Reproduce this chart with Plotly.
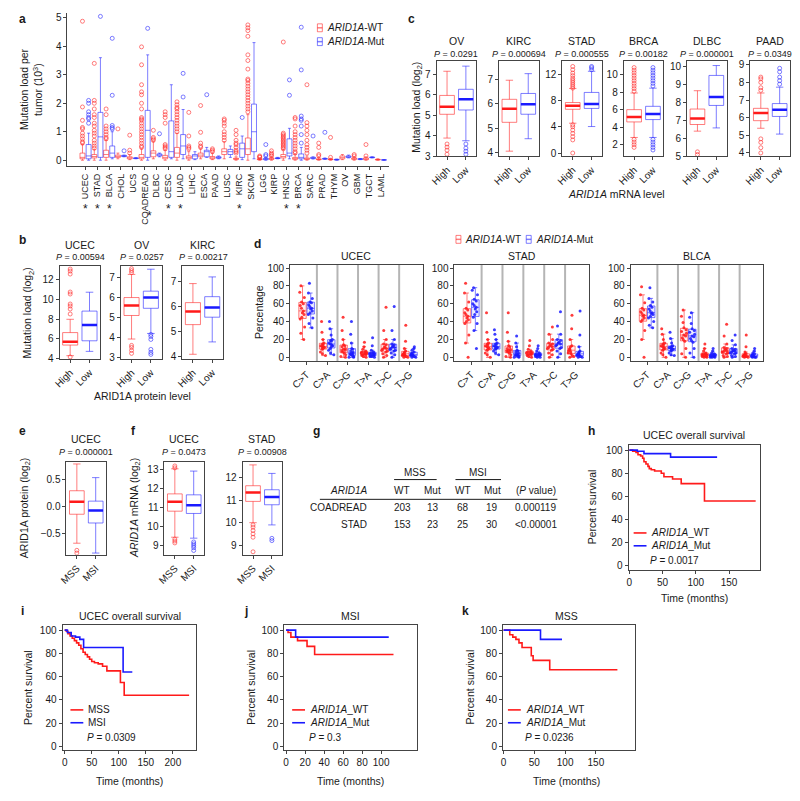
import plotly.graph_objects as go

# page is 800x801 but the html body keeps an 8px margin, so the figure is
# drawn 16px smaller and page coordinates are shifted by OFF
PAGE_W, PAGE_H, OFF = 800, 801, 8
W, H = PAGE_W - 2 * OFF, PAGE_H - 2 * OFF
RED, BLUE = "#ff1a1a", "#1a1aff"
RED_L, BLUE_L = "rgba(255,40,40,0.6)", "rgba(40,40,255,0.6)"
FONT = "Liberation Sans, Arial, sans-serif"
INK = "#1a1a1a"

# -----------------------------
# DATA
# -----------------------------
# panel a : mutation load per tumor (10^3)
cancers = ["UCEC", "STAD", "BLCA", "CHOL", "UCS", "COADREAD", "DLBC", "CESC", "LUAD",
           "LIHC", "ESCA", "PAAD", "LUSC", "KIRC", "SKCM", "LGG", "KIRP", "HNSC",
           "BRCA", "SARC", "PRAD", "THYM", "OV", "GBM", "TGCT", "LAML"]
a_sig = ["UCEC", "STAD", "BLCA", "COADREAD", "CESC", "LUAD", "KIRC", "HNSC", "BRCA"]

a_wt_q1 = [0.05, 0.08, 0.10, 0.10, 0.05, 0.05, 0.12, 0.05, 0.10, 0.05, 0.12, 0.05, 0.20,
           0.03, 0.20, 0.02, 0.03, 0.08, 0.03, 0.03, 0.02, 0.02, 0.05, 0.03, 0.02, 0.01]
a_wt_med = [0.10, 0.13, 0.20, 0.13, 0.08, 0.10, 0.25, 0.10, 0.25, 0.10, 0.18, 0.08, 0.30,
            0.05, 0.40, 0.03, 0.05, 0.13, 0.05, 0.05, 0.03, 0.03, 0.10, 0.05, 0.04, 0.02]
a_wt_q3 = [0.25, 0.20, 0.35, 0.18, 0.12, 0.20, 0.33, 0.17, 0.45, 0.15, 0.25, 0.13, 0.40,
           0.07, 0.78, 0.05, 0.08, 0.20, 0.10, 0.08, 0.05, 0.04, 0.15, 0.08, 0.08, 0.03]
a_wt_lo = [0.00, 0.00, 0.00, 0.05, 0.02, 0.00, 0.05, 0.00, 0.00, 0.00, 0.05, 0.02, 0.05,
           0.00, 0.00, 0.00, 0.00, 0.00, 0.00, 0.00, 0.00, 0.00, 0.02, 0.00, 0.00, 0.00]
a_wt_hi = [0.55, 0.38, 0.70, 0.25, 0.20, 0.40, 0.65, 0.35, 0.95, 0.30, 0.40, 0.25, 0.65,
           0.12, 1.60, 0.08, 0.12, 0.38, 0.20, 0.15, 0.10, 0.07, 0.20, 0.12, 0.12, 0.05]
a_wt_out = [
    [4.88, 1.87, 1.4, 1.15, 1.1, 0.95, 0.85, 0.75, 0.65, 0.6],
    [3.4, 2.1, 2.0, 1.8, 1.6, 1.5, 1.3, 1.2, 1.05, 0.95, 0.85, 0.7, 0.6, 0.5, 0.42],
    [1.8, 1.6, 1.2, 1.1, 1.0, 0.9, 0.8, 0.75],
    [1.1],
    [0.88, 0.35, 0.25],
    [3.98, 3.35, 2.65, 2.4, 2.3, 2.0, 1.8, 1.5, 1.45, 1.4, 1.3, 1.2, 1.1, 1.0, 0.9, 0.8,
     0.7, 0.6, 0.5, 0.45],
    [1.05, 0.8, 0.75, 0.7],
    [1.7, 1.6, 1.5, 1.3, 0.55, 0.5, 0.45, 0.4],
    [2.05, 1.95, 1.85, 1.8, 1.7, 1.6, 1.5, 1.4, 1.3, 1.2, 1.1, 1.0],
    [1.68, 0.85, 0.5, 0.45, 0.4],
    [1.92, 0.98, 0.6, 0.5, 0.45],
    [0.4, 0.35, 0.3],
    [1.45, 1.4, 1.3, 1.2, 1.0, 0.9, 0.8, 0.7],
    [1.05, 0.9, 0.7, 0.6, 0.55, 0.45, 0.35, 0.3, 0.25],
    [4.75, 4.65, 4.55, 4.35, 3.7, 3.5, 3.2, 2.85, 2.8, 2.7, 2.6, 2.5, 2.4, 2.3, 2.2, 2.1,
     2.0, 1.9, 1.8, 1.7],
    [0.15, 0.12, 0.1],
    [0.33, 0.25, 0.2, 0.15],
    [4.15, 0.95, 0.9, 0.85, 0.8, 0.75, 0.7, 0.65, 0.6, 0.55, 0.5, 0.45, 0.4],
    [1.5, 1.45, 1.2, 1.0, 0.9, 0.8, 0.7, 0.6, 0.5, 0.4, 0.3, 0.25],
    [2.65, 1.32, 1.2, 1.05, 0.9, 0.7, 0.55, 0.45, 0.35, 0.25],
    [0.6, 0.45, 0.2, 0.15],
    [0.8, 0.1],
    [],
    [0.2, 0.15],
    [0.55, 0.15],
    [],
]

a_mut_q1 = [0.05, 0.10, 0.10, 0.13, 0.06, 0.10, 0.15, 0.10, 0.20, 0.05, 0.12, 0.07, 0.20,
            0.10, 0.30, 0.02, 0.06, 0.15, 0.05, 0.06, 0.04, 0.01, 0.10, 0.03, 0.09, 0.005]
a_mut_med = [0.15, 0.82, 0.25, 0.15, 0.07, 1.05, 0.18, 0.30, 0.50, 0.15, 0.30, 0.10, 0.30,
             0.40, 1.00, 0.04, 0.07, 0.25, 0.10, 0.08, 0.05, 0.02, 0.12, 0.04, 0.10, 0.01]
a_mut_q3 = [0.55, 1.68, 0.50, 0.17, 0.08, 1.75, 0.22, 1.38, 0.90, 0.20, 0.35, 0.12, 0.38,
            0.60, 1.97, 0.06, 0.08, 0.75, 0.22, 0.10, 0.06, 0.03, 0.15, 0.05, 0.11, 0.015]
a_mut_lo = [0.00, 0.00, 0.05, 0.12, 0.05, 0.00, 0.12, 0.05, 0.05, 0.02, 0.10, 0.05, 0.10,
            0.02, 0.05, 0.00, 0.05, 0.05, 0.00, 0.04, 0.03, 0.00, 0.08, 0.02, 0.08, 0.00]
a_mut_hi = [0.95, 3.60, 1.00, 0.18, 0.09, 3.70, 0.25, 2.65, 1.78, 0.30, 0.45, 0.15, 0.50,
            0.85, 4.13, 0.10, 0.10, 1.12, 0.45, 0.12, 0.08, 0.04, 0.18, 0.06, 0.12, 0.02]
a_mut_out = [
    [2.1, 2.0, 1.7, 1.6, 1.5, 1.45, 1.3],
    [5.05],
    [4.28, 2.28, 1.22, 1.15, 1.1],
    [0.33], [], [4.63], [0.93], [], [3.05, 2.22], [], [2.3], [], [], [1.5], [],
    [0.55, 0.2, 0.15], [], [2.82, 2.28],
    [4.67, 3.17, 1.55, 1.45, 1.4, 1.2, 0.9, 0.6],
    [0.85], [0.98], [], [], [], [], [],
]

# box summaries: (q1, median, q3, lower whisker, upper whisker)
# panel b : mutation load (log2) by ARID1A protein level
b_titles = ["UCEC", "OV", "KIRC"]
b_pvals = ["0.00594", "0.0257", "0.00217"]
b_high = [(5.39, 5.72, 6.64, 4.33, 7.97), (5.10, 5.60, 6.00, 3.92, 7.16), (5.27, 5.80, 6.16, 4.07, 6.93)]
b_low = [(5.82, 7.40, 8.79, 4.76, 10.68), (5.46, 6.00, 6.32, 4.20, 7.42), (5.57, 5.96, 6.40, 4.57, 7.20)]
b_high_out = [[4.2, 8.5, 9.0, 9.3, 9.5, 10.5, 10.7, 12.5, 12.8, 13.0],
              [7.25, 7.35, 7.45, 3.2, 3.35, 3.5, 3.6], []]
b_low_out = [[], [3.15, 3.25, 3.4, 3.9, 4.05, 4.15], []]
b_ranges = [[4.0, 13.3], [2.92, 7.58], [3.88, 7.64]]
b_ticks = [[4, 6, 8, 10, 12], [3, 4, 5, 6, 7], [4, 5, 6, 7]]

# panel c : mutation load (log2) by ARID1A mRNA level
c_titles = ["OV", "KIRC", "STAD", "BRCA", "DLBC", "PAAD"]
c_pvals = ["0.0291", "0.000694", "0.000555", "0.00182", "0.000001", "0.0349"]
c_high = [(5.05, 5.42, 5.97, 3.89, 7.15), (5.25, 5.80, 6.19, 4.07, 6.97), (6.67, 7.20, 7.70, 4.55, 9.85),
          (4.60, 5.17, 6.00, 2.83, 7.90), (6.77, 7.10, 7.63, 6.40, 8.65), (5.83, 6.26, 6.53, 5.40, 7.40)]
c_low = [(5.26, 5.79, 6.27, 3.76, 7.40), (5.58, 5.99, 6.43, 4.58, 7.24), (6.80, 7.47, 9.24, 4.04, 12.47),
         (4.87, 5.50, 6.38, 2.83, 8.45), (7.83, 8.30, 9.50, 6.58, 10.05), (6.07, 6.45, 6.80, 5.07, 7.73)]
c_high_out = [[3.1, 3.3, 3.45, 3.6], [],
              [9.9, 10.2, 10.5, 10.8, 11.1, 11.4, 11.8, 12.2, 12.7, 13.2, 4.3, 4.0, 3.5, 3.0, 2.5, 2.0, 0.0],
              [8.1, 8.4, 8.7, 9.0, 9.3, 9.6, 9.9, 10.2, 10.5, 10.8, 2.6, 2.3, 2.0, 1.7],
              [5.1, 5.25], [7.55, 7.7, 8.0, 8.2, 8.3, 4.0, 4.3, 4.6, 4.8]]
c_low_out = [[3.1, 3.25, 3.4, 3.6], [], [12.7, 13.0, 13.2],
             [8.7, 9.0, 9.3, 9.6, 9.9, 10.2, 10.5, 10.8, 2.6, 2.3, 2.0, 1.7, 1.4],
             [], [7.9, 8.1, 8.3, 8.6, 8.8]]
c_ranges = [[3.0, 7.63], [3.86, 7.74], [-0.5, 13.97], [0.68, 11.5], [5.0, 10.28], [3.81, 9.19]]
c_ticks = [[3, 4, 5, 6, 7], [4, 5, 6, 7], [0, 4, 8, 12], [2, 4, 6, 8, 10], [5, 6, 7, 8, 9, 10],
           [4, 5, 6, 7, 8, 9]]

# panel d : substitution spectra (percentage), one list per substitution type
subs = ["C>T", "C>A", "C>G", "T>A", "T>C", "T>G"]
d_titles = ["UCEC", "STAD", "BLCA"]
d_ucec_wt = [[20, 27, 34, 43, 45, 48, 50, 52, 55, 58, 60, 62, 67, 73, 80],
             [2, 4, 6, 9, 10, 11, 12, 12, 13, 14, 15, 16, 20, 28, 40],
             [0, 1, 3, 5, 6, 7, 8, 9, 10, 12, 13, 14, 20, 30, 45],
             [0, 1, 2, 3, 3, 4, 4, 5, 5, 6, 6, 7, 9, 12, 17],
             [0, 2, 4, 6, 7, 8, 9, 10, 11, 12, 14, 15, 20, 30, 56],
             [0, 0, 1, 2, 2, 3, 3, 4, 4, 5, 6, 7, 10, 18, 36]]
d_ucec_mut = [[33, 38, 44, 48, 50, 52, 54, 55, 57, 59, 61, 62, 66, 72, 83],
              [3, 5, 8, 10, 12, 13, 14, 15, 16, 18, 19, 20, 25, 32, 40],
              [0, 0, 1, 2, 3, 4, 4, 5, 6, 7, 9, 10, 16, 26, 40],
              [0, 1, 1, 2, 2, 3, 3, 4, 4, 5, 5, 6, 8, 13, 22],
              [0, 3, 5, 7, 8, 9, 10, 11, 12, 13, 14, 15, 20, 30, 57],
              [0, 0, 1, 2, 2, 2, 3, 3, 4, 4, 5, 6, 8, 10, 12]]
d_stad_wt = [[0, 16, 25, 38, 40, 42, 44, 46, 48, 50, 53, 55, 62, 72, 83],
             [0, 3, 5, 8, 9, 10, 11, 12, 13, 14, 15, 16, 20, 28, 50],
             [0, 1, 3, 5, 6, 7, 7, 8, 9, 10, 12, 13, 18, 28, 50],
             [0, 1, 2, 3, 3, 4, 4, 5, 5, 6, 6, 7, 9, 13, 19],
             [0, 3, 5, 8, 9, 10, 11, 12, 13, 14, 15, 16, 20, 26, 34],
             [0, 1, 2, 4, 5, 6, 7, 8, 9, 10, 12, 13, 20, 32, 47]]
d_stad_mut = [[10, 30, 38, 45, 48, 51, 54, 56, 58, 60, 63, 65, 70, 75, 78],
              [3, 5, 7, 9, 10, 11, 11, 12, 13, 14, 15, 16, 20, 26, 31],
              [0, 0, 1, 2, 2, 3, 3, 4, 5, 6, 7, 8, 12, 16, 24],
              [0, 0, 1, 2, 2, 2, 3, 3, 3, 4, 4, 5, 7, 10, 13],
              [0, 4, 7, 10, 11, 13, 14, 15, 16, 17, 19, 20, 26, 35, 51],
              [0, 0, 1, 2, 2, 3, 3, 4, 4, 5, 6, 7, 12, 25, 52]]
d_blca_wt = [[0, 20, 30, 40, 42, 44, 46, 47, 49, 51, 53, 55, 61, 70, 79],
             [0, 3, 5, 8, 9, 10, 11, 12, 13, 14, 15, 16, 20, 26, 32],
             [0, 4, 10, 18, 20, 22, 24, 25, 27, 29, 31, 33, 39, 46, 53],
             [0, 0, 1, 1, 2, 2, 3, 3, 3, 4, 4, 5, 7, 10, 15],
             [0, 1, 2, 4, 5, 6, 6, 7, 8, 9, 10, 11, 15, 24, 37],
             [0, 0, 1, 1, 1, 2, 2, 2, 3, 3, 4, 4, 6, 12, 25]]
d_blca_mut = [[33, 36, 40, 44, 46, 48, 49, 50, 52, 54, 56, 58, 62, 66, 78],
              [2, 3, 5, 7, 8, 9, 9, 10, 11, 12, 12, 13, 16, 21, 28],
              [0, 5, 10, 17, 19, 21, 23, 24, 26, 28, 30, 32, 38, 45, 50],
              [0, 0, 0, 1, 1, 2, 2, 2, 3, 3, 3, 4, 5, 7, 10],
              [0, 1, 2, 4, 5, 5, 6, 7, 7, 8, 9, 10, 14, 19, 25],
              [0, 0, 0, 1, 1, 1, 2, 2, 2, 3, 3, 4, 5, 7, 10]]

# panel e / f : ARID1A protein and mRNA by MSS / MSI
e_mss = (-0.14, 0.09, 0.29, -0.67, 0.78)
e_msi = (-0.30, -0.07, 0.10, -0.85, 0.53)
e_mss_out = [-0.8, -0.85]
f_titles = ["UCEC", "STAD"]
f_pvals = ["0.0473", "0.00908"]
f_mss = [(10.82, 11.32, 11.73, 9.45, 13.05), (10.95, 11.35, 11.65, 10.0, 12.58)]
f_msi = [(10.70, 11.13, 11.68, 9.40, 12.93), (10.80, 11.15, 11.47, 9.90, 12.20)]
f_mss_out = [[13.1, 13.2, 9.15, 9.25, 9.35], [9.35, 9.5, 9.65, 9.8, 9.9, 8.7]]
f_msi_out = [[9.2, 9.1, 9.0, 8.9, 8.75], [9.2, 9.3]]

# panel g : table
g_types = ["COADREAD", "STAD"]
g_mss_wt = [203, 153]
g_mss_mut = [13, 23]
g_msi_wt = [68, 25]
g_msi_mut = [19, 30]
g_p = ["0.000119", "&lt;0.00001"]

# panels h-k : Kaplan-Meier steps (time in months, percent survival)
h_wt_t = [0, 5, 10, 13, 17, 20, 22, 25, 28, 30, 33, 38, 48, 52, 65, 78, 113, 190]
h_wt_s = [100, 99, 98, 96, 95, 93, 90, 88, 86, 84, 83, 82, 80, 77, 75, 71, 56, 56]
h_mut_t = [0, 12, 22, 62, 132]
h_mut_s = [100, 99, 97, 94, 94]
i_mss_t = [0, 3, 6, 10, 14, 18, 22, 26, 30, 34, 38, 42, 46, 50, 55, 62, 70, 78, 103, 110, 230]
i_mss_s = [100, 99, 97, 95, 93, 91, 89, 87, 84, 81, 79, 77, 75, 73, 72, 71, 69, 65, 55, 44, 44]
i_msi_t = [0, 5, 12, 20, 28, 35, 108, 125]
i_msi_s = [100, 98, 95, 94, 92, 85, 64, 64]
j_wt_t = [0, 2, 5, 12, 22, 30, 113]
j_wt_s = [100, 98, 94, 91, 86, 79, 79]
j_mut_t = [0, 10, 108]
j_mut_s = [100, 94, 94]
k_wt_t = [0, 8, 10, 15, 20, 25, 30, 45, 48, 75, 185]
k_wt_s = [100, 100, 96, 94, 92, 89, 85, 78, 74, 66, 66]
k_mut_t = [0, 60, 95]
k_mut_s = [100, 92, 92]


# -----------------------------
# HELPERS
# -----------------------------
fig = go.Figure()


def px(x):
    return (x - OFF) / W


def py(y):
    return 1 - (y - OFF) / H


def set_axes(n, x0, x1, y0, y1, xr, yr, box=True, xt=None, yt=None, xangle=0, tsize=10):
    s = "" if n == 1 else str(n)
    common = dict(showline=True, linecolor="#444", linewidth=1, mirror=box, ticks="outside",
                  ticklen=3, tickwidth=1, tickcolor="#444", showgrid=False, zeroline=False,
                  tickfont=dict(size=tsize, color=INK), fixedrange=True)
    xa = dict(common, domain=[px(x0), px(x1)], range=xr, anchor="y" + s, tickangle=xangle)
    ya = dict(common, domain=[py(y1), py(y0)], range=yr, anchor="x" + s)
    if xt:
        xa.update(tickmode="array", tickvals=xt[0], ticktext=xt[1])
    if yt:
        ya.update(tickmode="array", tickvals=yt)
    fig.update_layout(**{"xaxis" + s: xa, "yaxis" + s: ya})
    return "x" + s, "y" + s


def txt(x, y, s, size=10, anchor="center", angle=0):
    fig.add_annotation(x=px(x), y=py(y), xref="paper", yref="paper", text=s, showarrow=False,
                       font=dict(size=size, family=FONT, color=INK), xanchor=anchor,
                       yanchor="middle", textangle=angle)


def label(x, y, s):
    txt(x, y, "<b>%s</b>" % s, size=12)


def hline(x0, x1, y, color=INK, width=1):
    fig.add_shape(type="line", xref="paper", yref="paper", x0=px(x0), x1=px(x1),
                  y0=py(y), y1=py(y), line=dict(color=color, width=width))


def box_icon(cx, cy, color):
    fig.add_shape(type="rect", xref="paper", yref="paper", x0=px(cx - 2.5), x1=px(cx + 2.5),
                  y0=py(cy + 4), y1=py(cy - 4), line=dict(color=color, width=1))
    hline(cx - 2.5, cx + 2.5, cy, color=color, width=1.5)


def summary_box(xa, ya, pos, st, out, lc, mc, width=0.78):
    q1, med, q3, lo, hi = st
    fig.add_trace(go.Box(x=[pos], q1=[q1], median=[med], q3=[q3], lowerfence=[lo],
                         upperfence=[hi], width=width, whiskerwidth=0.5, boxpoints=False,
                         line=dict(color=lc, width=1), fillcolor="rgba(0,0,0,0)",
                         xaxis=xa, yaxis=ya, showlegend=False, hoverinfo="skip"))
    fig.add_trace(go.Box(x=[pos], q1=[med], median=[med], q3=[med], lowerfence=[med],
                         upperfence=[med], width=width, boxpoints=False,
                         line=dict(color=mc, width=2.5), fillcolor="rgba(0,0,0,0)",
                         xaxis=xa, yaxis=ya, showlegend=False, hoverinfo="skip"))
    if out:
        fig.add_trace(go.Scatter(x=[pos] * len(out), y=out, mode="markers", xaxis=xa, yaxis=ya,
                                 marker=dict(symbol="circle-open", size=4, color=lc,
                                             line=dict(width=1, color=lc)),
                                 showlegend=False, hoverinfo="skip"))


def pair_panel(n, x0, y0, y1, yr, yt, hi_st, lo_st, hi_out, lo_out, names, w=40):
    xa, ya = set_axes(n, x0, x0 + w, y0, y1, [-0.55, 1.55], yr, xt=([0, 1], names), yt=yt,
                      xangle=-45)
    summary_box(xa, ya, 0, hi_st, hi_out, RED_L, RED)
    summary_box(xa, ya, 1, lo_st, lo_out, BLUE_L, BLUE)


def km(n, x0, x1, y0, y1, xr, xt, curves):
    xa, ya = set_axes(n, x0, x1, y0, y1, xr, [-3.4, 104.5],
                      xt=(xt, [str(v) for v in xt]), yt=[0, 20, 40, 60, 80, 100])
    for t, s, c in curves:
        fig.add_trace(go.Scatter(x=t, y=s, mode="lines", line=dict(color=c, width=1.6, shape="hv"),
                                 xaxis=xa, yaxis=ya, showlegend=False, hoverinfo="skip"))


def km_legend(x, y, names, ptxt):
    for k, (nm, c) in enumerate(zip(names, [RED, BLUE])):
        hline(x, x + 13, y + 13 * k, color=c, width=1.6)
        txt(x + 16, y + 13 * k, nm, size=10, anchor="left")
    txt(x + 15, y + 28, "<i>P</i> = " + ptxt, size=10, anchor="left")


# -----------------------------
# PANEL a
# -----------------------------
xa, ya = set_axes(1, 60, 385, 10, 165, [-1.53, 25.7], [-0.21, 5.17], box=False,
                  xt=(list(range(len(cancers))), cancers), yt=[0, 1, 2, 3, 4, 5],
                  xangle=-90, tsize=9)
fig.update_layout(yaxis=dict(tickfont=dict(size=10)))
for off, q1, md, q3, lo, hi, outs, lc in [
        (-0.26, a_wt_q1, a_wt_med, a_wt_q3, a_wt_lo, a_wt_hi, a_wt_out, RED_L),
        (0.26, a_mut_q1, a_mut_med, a_mut_q3, a_mut_lo, a_mut_hi, a_mut_out, BLUE_L)]:
    pos = [i + off for i in range(len(cancers))]
    fig.add_trace(go.Box(x=pos, q1=q1, median=md, q3=q3, lowerfence=lo, upperfence=hi,
                         width=0.42, whiskerwidth=0.6, boxpoints=False,
                         line=dict(color=lc, width=1), fillcolor="rgba(0,0,0,0)",
                         xaxis=xa, yaxis=ya, showlegend=False, hoverinfo="skip"))
    ox = [p for p, o in zip(pos, outs) for _ in o]
    oy = [v for o in outs for v in o]
    fig.add_trace(go.Scatter(x=ox, y=oy, mode="markers", xaxis=xa, yaxis=ya,
                             marker=dict(symbol="circle-open", size=4, color=lc,
                                         line=dict(width=1, color=lc)),
                             showlegend=False, hoverinfo="skip"))
for nm in a_sig:
    long = nm == "COADREAD"
    fig.add_annotation(x=cancers.index(nm), xref="x", y=py(215 if long else 208), yref="paper",
                       text="*", showarrow=False, xshift=5 if long else 0, yanchor="middle",
                       font=dict(size=12, family=FONT, color=INK))
label(15, 16, "a")
txt(16, 87, "Mutation load per", size=10.5, angle=-90)
txt(29, 87, "tumor (10<sup>3</sup>)", size=10.5, angle=-90)
box_icon(315, 25, RED_L)
box_icon(315, 39, BLUE_L)
txt(320, 25, "<i>ARID1A</i>-WT", size=10, anchor="left")
txt(320, 39, "<i>ARID1A</i>-Mut", size=10, anchor="left")

# -----------------------------
# PANEL b
# -----------------------------
b_x0 = [52, 114, 176]
for k in range(3):
    pair_panel(2 + k, b_x0[k], 266, 360, b_ranges[k], b_ticks[k], b_high[k], b_low[k],
               b_high_out[k], b_low_out[k], ["High", "Low"], w=41)
    txt(b_x0[k] + 21, 245, b_titles[k], size=10.5)
    txt(b_x0[k] + 21, 257, "<i>P</i> = " + b_pvals[k], size=9)
label(15, 240, "b")
txt(20, 313, "Mutation load (log<sub>2</sub>)", size=10.5, angle=-90)
txt(136, 397, "ARID1A protein level", size=10.5)

# -----------------------------
# PANEL c
# -----------------------------
c_x0 = [433, 496, 560, 622, 686, 750]
for k in range(6):
    pair_panel(5 + k, c_x0[k], 59, 155, c_ranges[k], c_ticks[k], c_high[k], c_low[k],
               c_high_out[k], c_low_out[k], ["High", "Low"])
    txt(c_x0[k] + 20, 38, c_titles[k], size=10.5)
    txt(c_x0[k] + 20, 52, "<i>P</i> = " + c_pvals[k], size=9)
label(408, 16, "c")
txt(413, 105, "Mutation load (log<sub>2</sub>)", size=10.5, angle=-90)
txt(615, 193, "<i>ARID1A</i> mRNA level", size=10.5)

# -----------------------------
# PANEL d
# -----------------------------
d_x = [(285, 419), (451, 587), (629, 763)]
d_sets = [(d_ucec_wt, d_ucec_mut), (d_stad_wt, d_stad_mut), (d_blca_wt, d_blca_mut)]
for k in range(3):
    n = 11 + k
    xa, ya = set_axes(n, d_x[k][0], d_x[k][1], 265, 362, [-0.8, 5.65], [-4, 103.3],
                      xt=(list(range(6)), subs), yt=[0, 20, 40, 60, 80, 100], xangle=-45)
    for b in range(5):
        fig.add_shape(type="line", xref=xa, yref=ya + " domain", x0=b + 0.5, x1=b + 0.5,
                      y0=0, y1=1, line=dict(color="#b5b5b5", width=2), layer="below")
    for groups, off, c, lc, fc in [(d_sets[k][0], -0.2, RED, RED_L, "rgba(255,0,0,0.07)"),
                                   (d_sets[k][1], 0.2, BLUE, BLUE_L, "rgba(0,0,255,0.07)")]:
        xs = [i + off for i, g in enumerate(groups) for _ in g]
        ys = [v for g in groups for v in g]
        fig.add_trace(go.Box(x=xs, y=ys, width=0.36, boxpoints="all", jitter=0.9, pointpos=0,
                             marker=dict(size=3, color=c, opacity=0.85),
                             line=dict(color=lc, width=1), fillcolor=fc,
                             xaxis=xa, yaxis=ya, showlegend=False, hoverinfo="skip"))
    txt((d_x[k][0] + d_x[k][1]) / 2, 256, d_titles[k], size=10.5)
label(252, 244, "d")
txt(253, 313, "Percentage", size=10.5, angle=-90)
box_icon(455, 239, RED_L)
box_icon(526, 239, BLUE_L)
txt(460, 239, "<i>ARID1A</i>-WT", size=10, anchor="left")
txt(531, 239, "<i>ARID1A</i>-Mut", size=10, anchor="left")

# -----------------------------
# PANELS e, f
# -----------------------------
pair_panel(14, 59, 464, 558, [-0.88, 0.82], [-0.5, 0.0, 0.5], e_mss, e_msi, e_mss_out, [],
           ["MSS", "MSI"])
fig.update_layout(yaxis14=dict(tickformat=".1f"))
txt(79, 441, "UCEC", size=10.5)
txt(79, 454, "<i>P</i> = 0.000001", size=9)
label(15, 433, "e")
txt(17, 511, "ARID1A protein (log<sub>2</sub>)", size=10.5, angle=-90)

f_x0 = [158, 237]
f_ranges = [[8.53, 13.42], [8.57, 12.72]]
f_ticks = [[9, 10, 11, 12, 13], [9, 10, 11, 12]]
for k in range(2):
    pair_panel(15 + k, f_x0[k], 464, 558, f_ranges[k], f_ticks[k], f_mss[k], f_msi[k],
               f_mss_out[k], f_msi_out[k], ["MSS", "MSI"])
    txt(f_x0[k] + 20, 441, f_titles[k], size=10.5)
    txt(f_x0[k] + 20, 454, "<i>P</i> = " + f_pvals[k], size=9)
label(127, 433, "f")
txt(128, 511, "<i>ARID1A</i> mRNA (log<sub>2</sub>)", size=10.5, angle=-90)

# -----------------------------
# PANEL g (table)
# -----------------------------
label(312, 433, "g")
txt(411, 475, "MSS")
txt(475, 475, "MSI")
hline(390, 433, 482)
hline(452, 498, 482)
txt(365, 493, "<i>ARID1A</i>", anchor="right")
for xc, s in zip([398, 429, 460, 489, 533], ["WT", "Mut", "WT", "Mut", "(<i>P</i> value)"]):
    txt(xc, 493, s)
hline(315, 555, 502)
for r in range(len(g_types)):
    yy = 510 + 17 * r
    txt(365, yy, g_types[r], anchor="right")
    for xc, v in zip([398, 429, 460, 489, 533],
                     [g_mss_wt[r], g_mss_mut[r], g_msi_wt[r], g_msi_mut[r], g_p[r]]):
        txt(xc, yy, str(v))

# -----------------------------
# PANELS h - k (survival)
# -----------------------------
km(17, 627, 760, 447, 573, [-1, 197], [0, 50, 100, 150],
   [(h_wt_t, h_wt_s, RED), (h_mut_t, h_mut_s, BLUE)])
label(589, 433, "h")
txt(693, 437, "UCEC overall survival", size=10.5)
txt(590, 510, "Percent survival", size=10.5, angle=-90)
txt(693, 602, "Time (months)", size=10.5)
km_legend(632, 536, ["<i>ARID1A</i>_WT", "<i>ARID1A</i>_Mut"], "0.0017")

km(18, 55, 190, 629, 756, [-4, 243], [0, 50, 100, 150, 200],
   [(i_mss_t, i_mss_s, RED), (i_msi_t, i_msi_s, BLUE)])
label(15, 615, "i")
txt(123, 620, "UCEC overall survival", size=10.5)
txt(20, 692, "Percent survival", size=10.5, angle=-90)
txt(123, 787, "Time (months)", size=10.5)
km_legend(63, 715, ["MSS", "MSI"], "0.0309")

km(19, 279, 413, 629, 756, [-2, 137.6], [0, 20, 40, 60, 80, 100],
   [(j_wt_t, j_wt_s, RED), (j_mut_t, j_mut_s, BLUE)])
label(240, 615, "j")
txt(346, 620, "MSI", size=10.5)
txt(246, 692, "Percent survival", size=10.5, angle=-90)
txt(346, 787, "Time (months)", size=10.5)
km_legend(287, 715, ["<i>ARID1A</i>_WT", "<i>ARID1A</i>_Mut"], "0.3")

km(20, 500, 633, 629, 756, [-1, 213], [0, 50, 100, 150],
   [(k_wt_t, k_wt_s, RED), (k_mut_t, k_mut_s, BLUE)])
label(462, 615, "k")
txt(564, 620, "MSS", size=10.5)
txt(467, 692, "Percent survival", size=10.5, angle=-90)
txt(564, 787, "Time (months)", size=10.5)
km_legend(505, 715, ["<i>ARID1A</i>_WT", "<i>ARID1A</i>_Mut"], "0.0236")

fig.update_layout(width=W, height=H, margin=dict(l=0, r=0, t=0, b=0),
                  paper_bgcolor="white", plot_bgcolor="white",
                  font=dict(family=FONT, color=INK), showlegend=False)

fig.write_html("out.html")
